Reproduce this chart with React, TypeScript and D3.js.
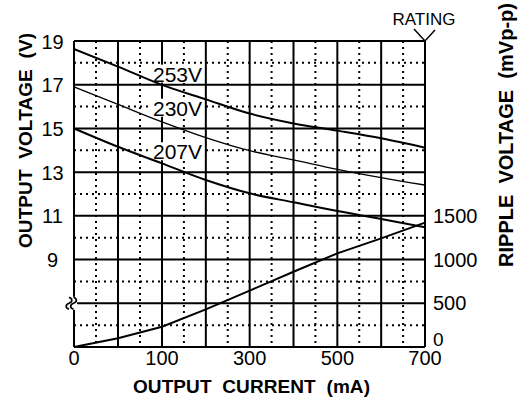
import React from "react";
import * as d3 from "d3";

// ---- data ----
const currents = [0, 50, 100, 200, 300, 400, 500, 600, 700]; // mA
const v253 = [18.63, 17.83, 16.99, 16.33, 15.68, 15.23, 14.9, 14.55, 14.12];
const v230 = [16.9, 16.1, 15.3, 14.58, 13.98, 13.56, 13.13, 12.75, 12.41];
const v207 = [15.0, 14.16, 13.4, 12.64, 12.03, 11.62, 11.22, 10.86, 10.48];
const ripple = [0, 100, 232, 431, 645, 861, 1071, 1243, 1422]; // mVp-p

const xMajor = [0, 50, 100, 200, 300, 400, 500, 600, 700];
const xMinor = [25, 75, 150, 250, 350, 450, 550, 650];
const xTickLabels = [0, 100, 300, 500, 700];
const yMajor = [19, 17, 15, 13, 11, 9, 7, 5];
const yMinor = [18, 16, 14, 12, 10, 8, 6];
const yTickLabels = [19, 17, 15, 13, 11, 9];
const rippleTicks = [1500, 1000, 500, 0];
const seriesNames = ["253V", "230V", "207V"];
const labelLevels = [17.14, 15.58, 13.59];

const FONT = "'Liberation Sans', Arial, sans-serif";

export default function App() {
  const x = d3.scaleLinear().domain([0, 100, 700]).range([74, 162, 425]);
  const yV = d3.scaleLinear().domain([5, 19]).range([347, 41]);
  const yR = d3.scaleLinear().domain([0, 1500]).range([347, yV(11)]);

  const [X0, X1] = [x(0), x(700)];
  const [Y0, Y1] = [yV(19), yV(5)];

  const vLine = d3
    .line<number>()
    .x((_, i) => x(currents[i]))
    .y((d) => yV(d))
    .curve(d3.curveMonotoneX);
  const rLine = d3
    .line<number>()
    .x((_, i) => x(currents[i]))
    .y((d) => yR(d))
    .curve(d3.curveLinear);

  const series = [v253, v230, v207];
  const widths = [2, 1.3, 2];

  const brkY = yV(7);
  const wave = (cx: number) =>
    `M${cx},${brkY - 6} c3.8,1.5 3.8,4.5 0,6 c-3.8,1.5 -3.8,4.5 0,6`;

  const pre = { whiteSpace: "pre" as const };

  return (
    <svg
      width={530}
      height={400}
      style={{ position: "absolute", left: 0, top: 0, background: "#fff" }}
      fontFamily={FONT}
    >
      <rect x={0} y={0} width={530} height={400} fill="#fff" />
      {/* minor dotted grid */}
      {xMinor.map((m) => (
        <line key={"xm" + m} x1={x(m)} x2={x(m)} y1={Y0} y2={Y1} stroke="#000" strokeWidth={2} strokeDasharray="2,4" />
      ))}
      {yMinor.map((m) => (
        <line key={"ym" + m} x1={X0} x2={X1} y1={yV(m)} y2={yV(m)} stroke="#000" strokeWidth={2} strokeDasharray="2,4" />
      ))}
      {/* major grid */}
      {xMajor.map((m) => (
        <line key={"xM" + m} x1={x(m)} x2={x(m)} y1={Y0} y2={Y1} stroke="#000" strokeWidth={2} />
      ))}
      {yMajor.map((m) => (
        <line key={"yM" + m} x1={X0} x2={X1} y1={yV(m)} y2={yV(m)} stroke="#000" strokeWidth={2} />
      ))}

      {/* axis break symbol */}
      <rect x={X0 - 8} y={brkY - 6.5} width={11} height={13} fill="#fff" />
      <path d={wave(X0 - 5)} fill="none" stroke="#000" strokeWidth={1.7} />
      <path d={wave(X0 - 0.5)} fill="none" stroke="#000" strokeWidth={1.7} />

      {/* label backgrounds */}
      {seriesNames.map((n, i) => (
        <rect key={"bg" + n} x={x(100) - 10} y={yV(labelLevels[i]) - 17} width={52} height={18} fill="#fff" />
      ))}

      {/* curves */}
      {series.map((s, i) => (
        <path key={"s" + i} d={vLine(s) || ""} fill="none" stroke="#000" strokeWidth={widths[i]} />
      ))}
      <path d={rLine(ripple) || ""} fill="none" stroke="#000" strokeWidth={2} />

      {seriesNames.map((n, i) => (
        <text key={"lb" + n} x={x(100) - 9} y={yV(labelLevels[i])} fontSize={21}>
          {n}
        </text>
      ))}

      {/* left tick labels */}
      {yTickLabels.map((t) => (
        <text key={"yl" + t} x={52.5} y={yV(t) + 7.5} fontSize={20} textAnchor="middle">
          {t}
        </text>
      ))}

      {/* bottom tick labels */}
      {xTickLabels.map((t) => (
        <text key={"xl" + t} x={x(t)} y={365} fontSize={20} textAnchor="middle">
          {t}
        </text>
      ))}

      {/* right tick labels */}
      {rippleTicks.map((t) => (
        <text key={"rl" + t} x={X1 + 8} y={t === 0 ? yR(t) - 1.5 : yR(t) + 7} fontSize={t === 0 ? 19 : 20}>
          {t}
        </text>
      ))}

      {/* RATING marker */}
      <text x={424} y={25} fontSize={17} textAnchor="middle">
        RATING
      </text>
      <path d={`M${X1 - 11},${Y0 - 12} L${X1},${Y0} L${X1 + 10},${Y0 - 11}`} fill="none" stroke="#000" strokeWidth={1.5} />

      {/* axis titles */}
      <text x={251.5} y={393} fontSize={19} fontWeight="bold" textAnchor="middle" textLength={237} lengthAdjust="spacing" style={pre}>
        {"OUTPUT  CURRENT  (mA)"}
      </text>
      <text
        x={0}
        y={0}
        fontSize={19}
        fontWeight="bold"
        textAnchor="middle"
        textLength={215}
        lengthAdjust="spacing"
        style={pre}
        transform={`translate(31.5,140.5) rotate(-90)`}
      >
        {"OUTPUT  VOLTAGE  (V)"}
      </text>
      <text
        x={0}
        y={0}
        fontSize={20}
        fontWeight="bold"
        textAnchor="middle"
        textLength={264}
        lengthAdjust="spacing"
        style={pre}
        transform={`translate(512.5,135) rotate(-90)`}
      >
        {"RIPPLE  VOLTAGE  (mVp-p)"}
      </text>
    </svg>
  );
}
